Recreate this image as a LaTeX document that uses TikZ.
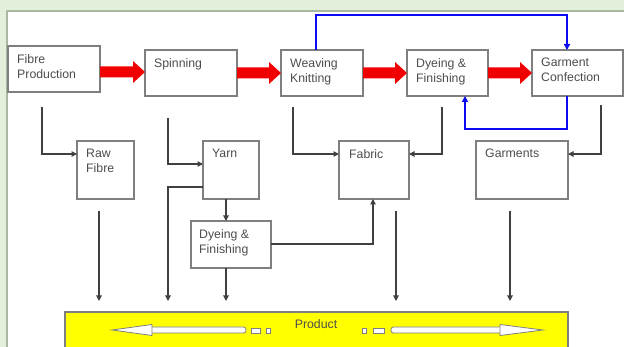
\documentclass[tikz,border=0pt]{standalone}
\usepackage{fontspec}
\setmainfont{Liberation Sans}
\usetikzlibrary{arrows.meta,calc}
\definecolor{bggreen}{HTML}{E3EFDA}
\definecolor{panelb}{HTML}{A9B9A0}
\definecolor{boxgray}{HTML}{7F7F7F}
\definecolor{txtgray}{HTML}{4D4D4D}
\definecolor{lngray}{HTML}{404040}
\definecolor{arrred}{HTML}{F00000}
\definecolor{flowblue}{HTML}{0A0AF5}
\definecolor{prodyel}{HTML}{FFFF00}
\tikzset{
  box/.style={draw=boxgray, line width=1.3pt, fill=white, inner sep=0pt, outer sep=0pt, anchor=north west},
  lbl/.style={anchor=north west, inner sep=0pt, align=left, text=txtgray, font=\fontsize{12.3}{15}\selectfont},
  conn/.style={draw=lngray, line width=1.1pt, -{Triangle[length=5.5pt,width=5.5pt]}},
  bconn/.style={draw=flowblue, line width=2pt, -{Triangle[length=6pt,width=6pt]}},
  fat/.style={fill=arrred},
  wideArr/.style={fill=white, draw=boxgray, line width=0.8pt},
}
\newcommand\fatarrow[3]{%
  \fill[fat] ($(#1.east |- 0,#3)+(0,-5.5)$) -- ($(#2.west |- 0,#3)+(-12,-5.5)$)
    -- ($(#2.west |- 0,#3)+(-12,-11)$) -- (#2.west |- 0,#3)
    -- ($(#2.west |- 0,#3)+(-12,11)$) -- ($(#2.west |- 0,#3)+(-12,5.5)$)
    -- ($(#1.east |- 0,#3)+(0,5.5)$) -- cycle;}
\begin{document}
\begin{tikzpicture}[x=1pt,y=-1pt]
\useasboundingbox (0,0) rectangle (624,347);
\fill[bggreen] (0,0) rectangle (624,347);
\draw[panelb, fill=white, line width=1.5pt] (7,11) rectangle (640,360);

% top row
\node[box, minimum width=92pt, minimum height=46pt] (fp) at (8,46) {};
\node[box, minimum width=92pt, minimum height=46pt] (sp) at (145,50) {};
\node[box, minimum width=82pt, minimum height=46pt] (wk) at (281,50) {};
\node[box, minimum width=81pt, minimum height=46pt] (df) at (407,50) {};
\node[box, minimum width=91pt, minimum height=46pt] (gc) at (532,50) {};
% second row
\node[box, minimum width=57pt, minimum height=58pt] (rf) at (77,141) {};
\node[box, minimum width=56pt, minimum height=58pt] (yn) at (203,141) {};
\node[box, minimum width=70pt, minimum height=58pt] (fb) at (339,141) {};
\node[box, minimum width=92pt, minimum height=58pt] (gm) at (476,141) {};
\node[box, minimum width=80pt, minimum height=47pt] (df2) at (191,221) {};

% labels
\node[lbl] (fpt) at ($(fp.north west)+(9,8)$) {Fibre\\Production};
\node[lbl] (spt) at ($(sp.north west)+(9,8)$) {Spinning};
\node[lbl] (wkt) at ($(wk.north west)+(9,8)$) {Weaving\\Knitting};
\node[lbl] (dft) at ($(df.north west)+(9,8)$) {Dyeing \&\\Finishing};
\node[lbl] (gct) at ($(gc.north west)+(9,8)$) {Garment\\Confection};
\node[lbl] (rft) at ($(rf.north west)+(9,8)$) {Raw\\Fibre};
\node[lbl] (ynt) at ($(yn.north west)+(9,8)$) {Yarn};
\node[lbl] (fbt) at ($(fb.north west)+(10,8)$) {Fabric};
\node[lbl] (gmt) at ($(gm.north west)+(9,8)$) {Garments};
\node[lbl] (df2t) at ($(df2.north west)+(8,8)$) {Dyeing \&\\Finishing};

% product bar
\node[box, fill=prodyel, minimum width=503pt, minimum height=42pt] (prod) at (65,312) {};
\node[text=txtgray, inner sep=0pt, font=\fontsize{12.3}{15}\selectfont] (prodt) at (316,324) {Product};
% left wide arrow
\draw[wideArr, rounded corners=2.5pt] (148,327) rectangle (246,333);
\draw[wideArr] (152,324.5) -- (112,330) -- (152,335.5) -- cycle;
\draw[wideArr] (251,328) rectangle (260,333);
\draw[wideArr] (266,328) rectangle (270,333);
% right wide arrow
\draw[wideArr] (362,328) rectangle (366,333);
\draw[wideArr] (373,328) rectangle (384,333);
\draw[wideArr, rounded corners=2.5pt] (391,327) rectangle (504,333);
\draw[wideArr] (500,324.5) -- (543,330) -- (500,335.5) -- cycle;

% red fat arrows
\fatarrow{fp}{sp}{72}
\fatarrow{sp}{wk}{73}
\fatarrow{wk}{df}{73}
\fatarrow{df}{gc}{73}

% blue flows
\draw[bconn] (wk.north -| 316,0) |- (567,15) -- (gc.north -| 567,0);
\draw[bconn] (gc.south -| 567,0) |- (465,129) -- (df.south -| 465,0);

% free ends
\coordinate (cfp) at (42,107);
\coordinate (csp) at (168,118);
\coordinate (cwk) at (293,107);
\coordinate (cdf) at (442,107);
\coordinate (cgc) at (601,105);
\coordinate (crf) at (99,211);
\coordinate (cfb) at (396,211);
\coordinate (cgm) at (510,211);
\coordinate (eyn) at (168,301);
\coordinate (erf) at (99,301);
\coordinate (edf) at (226,301);
\coordinate (efb) at (396,301);
\coordinate (egm) at (510,301);

% black connectors
\draw[conn] (cfp) |- (rf.west |- 0,154);
\draw[conn] (csp) |- (yn.west |- 0,164);
\draw[conn] (cwk) |- (fb.west |- 0,154);
\draw[conn] (cdf) |- (fb.east |- 0,154);
\draw[conn] (cgc) |- (gm.east |- 0,154);
\draw[conn] (yn.south -| 226,0) -- (df2.north -| 226,0);
\draw[conn] (yn.west |- 0,187) -| (eyn);
\draw[conn] (crf) -- (erf);
\draw[conn] (df2.south -| 226,0) -- (edf);
\draw[conn] (df2.east |- 0,244) -| (fb.south -| 373,0);
\draw[conn] (cfb) -- (efb);
\draw[conn] (cgm) -- (egm);
\end{tikzpicture}
\end{document}
